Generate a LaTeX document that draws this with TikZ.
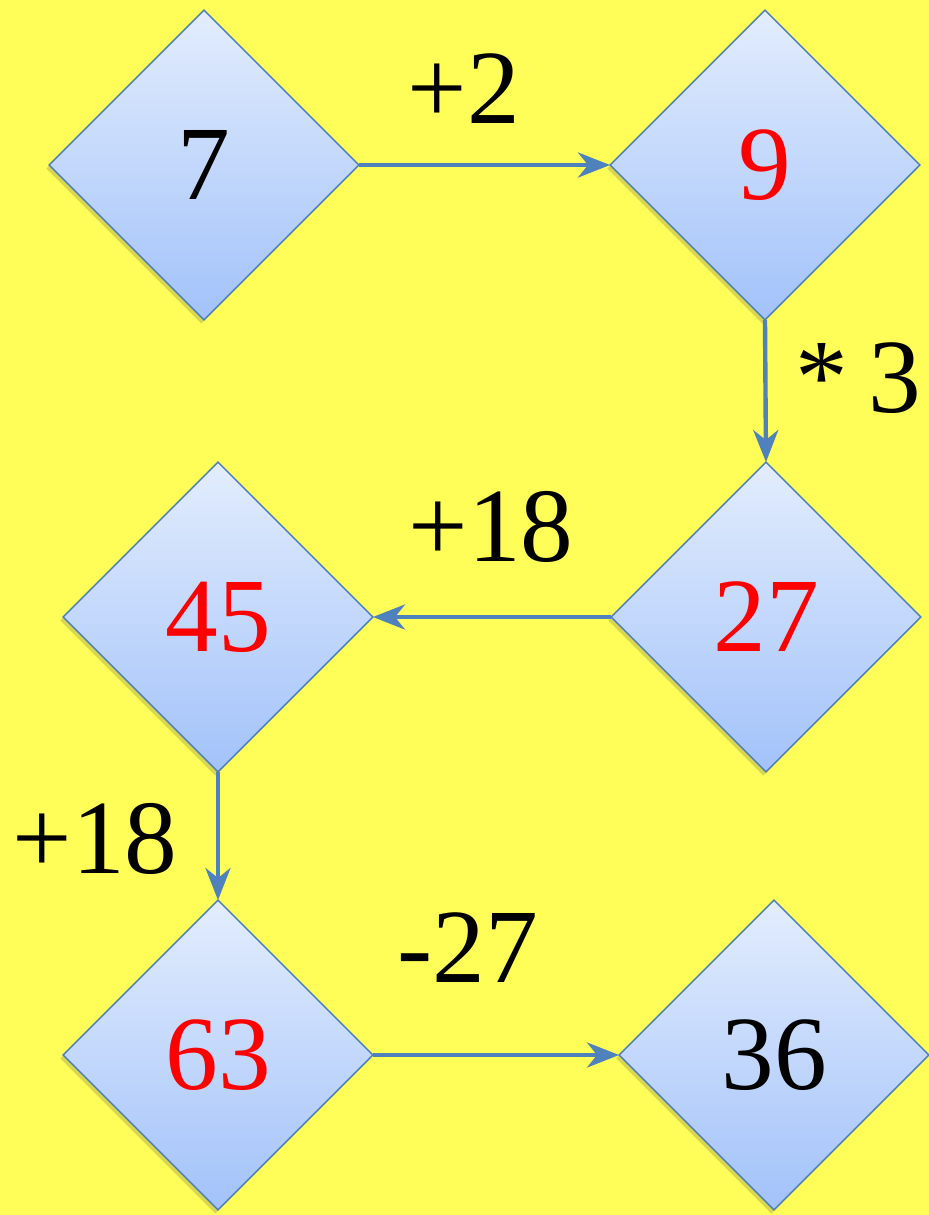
\documentclass[tikz,border=0pt]{standalone}
\usepackage{fontspec}
\setmainfont{Liberation Serif}
\usepackage{tikz}
\usetikzlibrary{arrows.meta,shapes.geometric,shadows}
\definecolor{bgyellow}{HTML}{FFFD57}
\definecolor{edgeblue}{HTML}{4A7EBB}
\definecolor{arrowblue}{HTML}{4F81BD}
\definecolor{topblue}{HTML}{E3EDFD}
\definecolor{botblue}{HTML}{A2C2FA}
\newcommand{\numfont}{\fontsize{60}{60}\selectfont}

\begin{document}
\begin{tikzpicture}[x=0.02cm,y=-0.02cm,
    box/.style={diamond,draw=edgeblue,line width=0.8pt,top color=topblue,bottom color=botblue,
      minimum width=6.2cm,minimum height=6.2cm,inner sep=0pt,outer sep=0pt,font=\numfont,
      drop shadow={shadow xshift=-1.5pt,shadow yshift=-2pt,opacity=0.25,fill=black!70!yellow}},
    link/.style={-{Stealth[length=0.64cm,width=0.5cm,inset=0.2cm]},arrowblue,line width=2.5pt},
    op/.style={font=\numfont,anchor=base,inner sep=0pt}]
  \fill[bgyellow] (0,0) rectangle (929,1215);
  \useasboundingbox (0,0) rectangle (929,1215);
  % number boxes
  \node[box] (n7)  at (204,165)  {7};
  \node[box,text=red] (n9)  at (765,165)  {9};
  \node[box,text=red] (n27) at (766,617)  {27};
  \node[box,text=red] (n45) at (218,617)  {45};
  \node[box,text=red] (n63) at (218,1055) {63};
  \node[box] (n36) at (774,1055) {36};
  % steps
  \draw[link] (n7.east) -- (n9.west);
  \draw[link] (n9.south) -- (n27.north);
  \draw[link] (n27.west) -- (n45.east);
  \draw[link] (n45.south) -- (n63.north);
  \draw[link] (n63.east) -- (n36.west);
  \node[op] (l1) at (464,123) {+2};
  \node[op,anchor=base east] (l2) at (922,412) {\spaceskip=0.2em\relax * 3};
  \node[op] (l3) at (491,561) {+18};
  \node[op] (l4) at (95,873)  {+18};
  \node[op] (l5) at (468,982) {-27};
\end{tikzpicture}
\end{document}
